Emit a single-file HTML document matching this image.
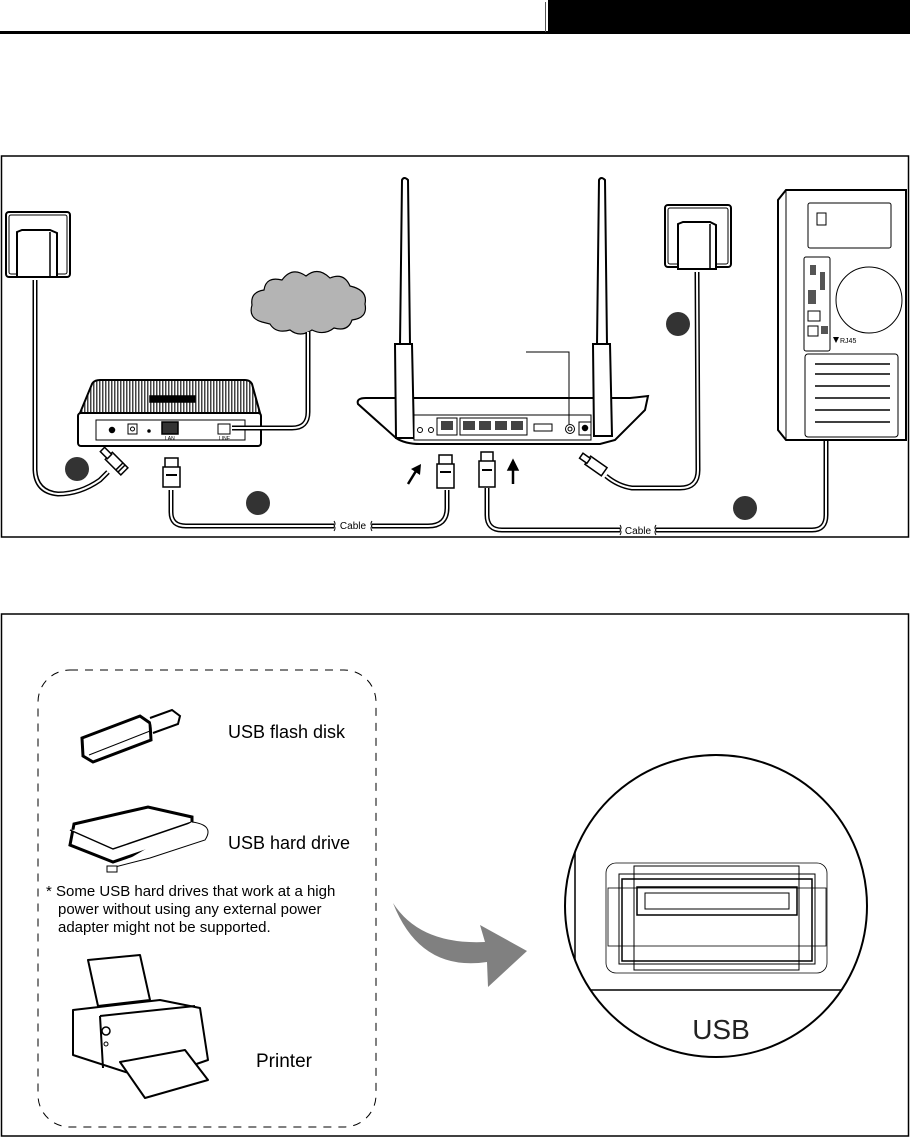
<!DOCTYPE html>
<html><head><meta charset="utf-8"><style>
html,body{margin:0;padding:0;background:#fff;}
svg{display:block;}
text{font-family:"Liberation Sans",sans-serif;}
</style></head><body>
<svg width="910" height="1138" viewBox="0 0 910 1138" xmlns="http://www.w3.org/2000/svg">
<defs>
<pattern id="hatch" width="3" height="3" patternUnits="userSpaceOnUse">
<rect width="3" height="3" fill="#fff"/><rect width="1.5" height="3" fill="#444"/>
</pattern>
</defs>
<rect x="0" y="31" width="548" height="3" fill="#000"/>
<rect x="548" y="0" width="362" height="34" fill="#000"/>
<line x1="545.5" y1="2" x2="545.5" y2="32" stroke="#555" stroke-width="1"/>

<rect x="1.5" y="156" width="907" height="381" fill="none" stroke="#000" stroke-width="1.5"/>

<g fill="none" stroke="#000" stroke-width="1.5">
<rect x="6" y="212" width="64" height="65" rx="3" stroke-width="2"/>
<rect x="9" y="215" width="58" height="59" rx="2" stroke-width="1"/>
<path d="M17 232 L22 230 L50 230 L57 233 L57 277 L17 277 Z" fill="#fff" stroke-width="2"/>
<line x1="50" y1="232" x2="50" y2="277"/>
<path d="M35 280 L35 470 Q36 492 58 494 Q80 494 100 480 L108 472" stroke-width="5"/>
<path d="M35 280 L35 470 Q36 492 58 494 Q80 494 100 480 L108 472" stroke="#fff" stroke-width="2"/>
<g transform="translate(118,465) rotate(-45)">
<rect x="-5" y="-13" width="10" height="22" fill="#fff"/>
<rect x="-3" y="-22" width="6" height="10" fill="#fff"/>
<line x1="-5" y1="2" x2="5" y2="2"/><line x1="-5" y1="5" x2="5" y2="5"/>
</g>
<path d="M80 413 L92 384 Q94 380 100 380 L245 380 Q250 380 252 384 L260 413 Z" fill="url(#hatch)" stroke-width="2"/>
<rect x="150" y="396" width="45" height="6" fill="#000"/>
<rect x="78" y="413" width="183" height="33" rx="3" fill="#fff" stroke-width="2"/>
<rect x="96" y="420" width="149" height="20" stroke-width="1"/>
<circle cx="112" cy="430" r="2.5" fill="#000"/>
<rect x="128" y="424" width="9" height="10" stroke-width="1"/><circle cx="132.5" cy="429" r="2" stroke-width="1"/>
<circle cx="149" cy="431" r="1" fill="#000"/>
<rect x="162" y="422" width="16" height="12" fill="#333"/>
<rect x="218" y="424" width="12" height="10" stroke-width="1"/>
<text x="219" y="440" font-size="5" fill="#000" stroke="none">LINE</text>
<text x="165" y="440" font-size="5" fill="#000" stroke="none">LAN</text>
<path d="M262 322 Q248 318 252 305 Q250 292 264 290 Q266 276 282 280 Q292 266 306 276 Q318 266 330 278 Q344 272 350 286 Q368 290 365 304 Q368 318 352 320 Q348 332 334 328 Q324 336 312 330 Q300 338 290 330 Q276 334 270 324 Z" fill="#b4b4b4" stroke="#000" stroke-width="1.2"/>
<path d="M308 332 L308 412 Q308 428 292 428 L232 428" stroke-width="5"/>
<path d="M308 332 L308 412 Q308 428 292 428 L232 428" stroke="#fff" stroke-width="2"/>
<path d="M171 490 L171 512 Q171 526 186 526 L334 526 M372 526 L428 526 Q447 526 447 508 L447 490" stroke-width="5"/>
<path d="M171 490 L171 512 Q171 526 186 526 L334 526 M372 526 L428 526 Q447 526 447 508 L447 490" stroke="#fff" stroke-width="2"/>
<rect x="165" y="458" width="13" height="10" fill="#fff"/><rect x="163" y="467" width="17" height="20" fill="#fff"/>
<line x1="166" y1="475" x2="177" y2="475" stroke-width="2"/>
<rect x="439" y="455" width="13" height="10" fill="#fff"/><rect x="437" y="464" width="17" height="24" fill="#fff"/>
<line x1="440" y1="472" x2="451" y2="472" stroke-width="2"/>
<path d="M400 345 L402 180 Q404 176 408 180 L410 345" stroke-width="2" fill="#fff"/>
<path d="M597 345 L599 180 Q601 176 605 180 L607 345" stroke-width="2" fill="#fff"/>
<path d="M358 404 Q356 398 366 398 L397 398 L413 398 L590 398 L630 398 L648 396 L645 410 L615 440 L600 444 L420 444 Q405 444 396 438 Z" fill="#fff" stroke-width="2"/>
<path d="M395 344 L412 344 L414 438 L396 438 Z" fill="#fff" stroke-width="2"/>
<path d="M593 344 L610 344 L612 436 L594 436 Z" fill="#fff" stroke-width="2"/>
<rect x="414" y="415" width="177" height="25" fill="#fff" stroke-width="1"/>
<circle cx="420" cy="430" r="2.5" stroke-width="1"/><circle cx="431" cy="430" r="2.5" stroke-width="1"/>
<rect x="437" y="418" width="20" height="17" stroke-width="1"/>
<rect x="460" y="418" width="67" height="17" stroke-width="1"/>
<g fill="#444" stroke="none">
<rect x="441" y="421" width="12" height="9"/><rect x="463" y="421" width="12" height="9"/><rect x="479" y="421" width="12" height="9"/><rect x="495" y="421" width="12" height="9"/><rect x="511" y="421" width="12" height="9"/>
</g>
<rect x="534" y="424" width="18" height="7" stroke-width="1"/>
<circle cx="570" cy="429" r="4.5" stroke-width="1"/><circle cx="570" cy="429" r="2" stroke-width="1"/>
<rect x="579" y="422" width="12" height="13" stroke-width="1"/><circle cx="585" cy="428" r="2.5" fill="#000"/>
<path d="M526 352 L569 352 L569 424" stroke-width="1"/>
<path d="M408 484 L416 471" stroke-width="2.5"/><path d="M411 469 L421 464 L420 475 Z" fill="#000" stroke="none"/>
<path d="M513 484 L513 468" stroke-width="2.5"/><path d="M508 470 L513 460 L518 470 Z" fill="#000"/>
<path d="M487 488 L487 515 Q487 530 502 530 L620 530 M656 530 L812 530 Q826 530 826 515 L826 378" stroke-width="5"/>
<path d="M487 488 L487 515 Q487 530 502 530 L620 530 M656 530 L812 530 Q826 530 826 515 L826 378" stroke="#fff" stroke-width="2"/>
<rect x="481" y="452" width="12" height="10" fill="#fff"/><rect x="479" y="461" width="16" height="26" fill="#fff"/>
<line x1="482" y1="470" x2="492" y2="470" stroke-width="2"/>
<path d="M820 343 L830 343 L832 358 L828 378 L822 378 L818 358 Z" fill="#fff"/>
<rect x="665" y="205" width="66" height="62" rx="3" stroke-width="2"/>
<rect x="668" y="208" width="60" height="56" rx="2" stroke-width="1"/>
<path d="M678 224 L683 222 L710 222 L716 225 L716 269 L678 269 Z" fill="#fff" stroke-width="2"/>
<line x1="710" y1="224" x2="710" y2="269"/>
<path d="M697 272 L698 470 Q698 488 680 488 L632 488 Q618 486 606 476" stroke-width="5"/>
<path d="M697 272 L698 470 Q698 488 680 488 L632 488 Q618 486 606 476" stroke="#fff" stroke-width="2"/>
<g transform="translate(596,466) rotate(-55)">
<rect x="-5" y="-10" width="10" height="20" fill="#fff"/>
<rect x="-3" y="-18" width="6" height="9" fill="#fff"/>
</g>
<path d="M786 190 L906 190 L906 440 L786 440 L778 430 L778 200 Z" fill="#fff" stroke-width="2"/>
<line x1="786" y1="190" x2="786" y2="440" stroke-width="1"/>
<rect x="808" y="203" width="83" height="45" rx="2" stroke-width="1"/>
<rect x="817" y="213" width="9" height="12" stroke-width="1"/>
<rect x="804" y="257" width="26" height="94" rx="2" stroke-width="1"/>
<rect x="810" y="265" width="6" height="10" fill="#555" stroke="none"/><rect x="820" y="272" width="5" height="18" fill="#555" stroke="none"/>
<rect x="808" y="290" width="8" height="14" fill="#555" stroke="none"/>
<rect x="808" y="311" width="12" height="10" stroke-width="1"/><rect x="808" y="326" width="10" height="10" stroke-width="1"/><rect x="821" y="326" width="7" height="8" fill="#555" stroke="none"/>
<circle cx="869" cy="300" r="33" stroke-width="1"/>
<rect x="805" y="354" width="93" height="83" rx="3" stroke-width="1"/>
<g stroke-width="1.5"><line x1="815" y1="364" x2="890" y2="364"/><line x1="815" y1="374" x2="890" y2="374"/><line x1="815" y1="386" x2="890" y2="386"/><line x1="815" y1="398" x2="890" y2="398"/><line x1="815" y1="410" x2="890" y2="410"/><line x1="815" y1="422" x2="890" y2="422"/></g>
<path d="M833 337 L839 337 L836 343 Z" fill="#000" stroke="none"/>
</g>
<text x="840" y="343" font-size="7" fill="#000">RJ45</text>
<text x="353" y="529" font-size="10" text-anchor="middle">Cable</text>
<text x="638" y="534" font-size="10" text-anchor="middle">Cable</text>
<g stroke="#000" fill="none" stroke-width="1"><path d="M334 521 Q336 524 334 526 Q336 528 334 531"/><path d="M372 521 Q370 524 372 526 Q370 528 372 531"/><path d="M620 525 Q622 528 620 530 Q622 532 620 535"/><path d="M656 525 Q654 528 656 530 Q654 532 656 535"/></g>
<g fill="#333"><circle cx="77" cy="469" r="12"/><circle cx="258" cy="503" r="12"/><circle cx="678" cy="324" r="12"/><circle cx="745" cy="508" r="12"/></g>

<rect x="1.5" y="614" width="907" height="522" fill="none" stroke="#000" stroke-width="1.5"/>
<rect x="38" y="670" width="338" height="457" rx="32" fill="none" stroke="#000" stroke-width="1" stroke-dasharray="8,7"/>
<g fill="#fff" stroke="#000">
<path d="M82 738 L140 716 L150 723 L151 740 L93 762 L83 756 Z" stroke-width="3"/>
<path d="M150 718 L172 710 L180 716 L178 724 L153 733" stroke-width="2"/>
<line x1="89" y1="755" x2="150" y2="731" stroke-width="1"/>
</g>
<text x="228" y="738" font-size="18">USB flash disk</text>
<g fill="#fff" stroke="#000">
<path d="M74 824 L148 807 L192 817 L192 835 L113 862 L70 845 Z" stroke-width="3"/>
<path d="M70 830 L113 849 L192 822" stroke-width="1.5"/>
<path d="M192 822 Q215 825 205 840 L150 858 L115 867" stroke-width="1"/>
<rect x="107" y="866" width="10" height="6" stroke-width="1"/>
</g>
<text x="228" y="849" font-size="18">USB hard drive</text>
<text x="46" y="896" font-size="15">* Some USB hard drives that work at a high</text>
<text x="58" y="914" font-size="15">power without using any external power</text>
<text x="58" y="932" font-size="15">adapter might not be supported.</text>
<g fill="#fff" stroke="#000" stroke-width="2" stroke-linejoin="round">
<path d="M88 960 L140 955 L150 1000 L98 1006 Z"/>
<path d="M73 1010 L160 1000 L200 1008 L208 1060 L150 1080 L73 1055 Z"/>
<path d="M100 1016 L195 1006 M100 1016 L103 1068"/>
<path d="M120 1062 L185 1050 L208 1080 L145 1098 Z"/>
<circle cx="106" cy="1031" r="4" stroke-width="1.5"/><circle cx="106" cy="1044" r="2" stroke-width="1"/>
</g>
<text x="256" y="1067" font-size="19">Printer</text>
<path d="M393 903 Q420 945 485 942 L480 925 L527 951 L488 987 L487 962 Q420 972 393 903 Z" fill="#808080"/>
<defs><clipPath id="cc"><circle cx="716" cy="906" r="151"/></clipPath></defs>
<g clip-path="url(#cc)" fill="none" stroke="#000">
<line x1="575" y1="850" x2="575" y2="990" stroke-width="1.5"/>
<line x1="560" y1="990" x2="880" y2="990" stroke-width="1.5"/>
<rect x="606" y="863" width="221" height="110" rx="10" stroke-width="0.8"/>
<rect x="619" y="874" width="196" height="90" stroke-width="1"/>
<rect x="634" y="866" width="165" height="104" stroke-width="1"/>
<rect x="608" y="888" width="218" height="58" stroke-width="0.8"/>
<rect x="622" y="879" width="190" height="82" stroke-width="1.5"/>
<rect x="637" y="887" width="160" height="28" stroke-width="1.5"/>
<rect x="645" y="893" width="144" height="16" stroke-width="1"/>
</g>
<circle cx="716" cy="906" r="151" fill="none" stroke="#000" stroke-width="2"/>
<text x="721" y="1039" font-size="28" text-anchor="middle" fill="#222">USB</text>
</svg>
</body></html>
